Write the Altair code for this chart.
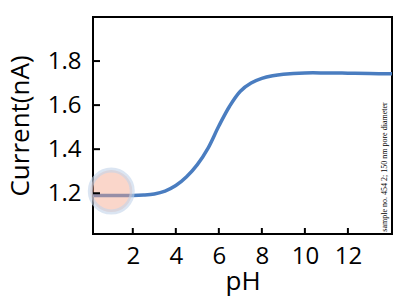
import altair as alt
import pandas as pd

# curve data
ph = [0.15, 1.0, 2.0, 2.5, 3.0, 3.5, 4.0, 4.5, 5.0, 5.5, 6.0, 6.5, 7.0, 7.5, 8.0, 8.5, 9.0, 10.0, 11.0, 12.0, 13.0, 14.05]
current = [1.19, 1.19, 1.19, 1.192, 1.197, 1.21, 1.235, 1.275, 1.33, 1.405, 1.505, 1.595, 1.663, 1.70, 1.721, 1.733, 1.740, 1.746, 1.746, 1.745, 1.743, 1.742]

# highlighted point
marker_ph = [1.0]
marker_current = [1.21]

x_ticks = [2, 4, 6, 8, 10, 12]
y_ticks = [1.2, 1.4, 1.6, 1.8]
note = "sample no. 454 2; 150 nm pore diameter"

W, H = 299, 217
X_DOMAIN = [0.15, 14.05]
Y_DOMAIN = [1.015, 2.0]
FONT = "Open Sans"

curve_df = pd.DataFrame({"pH": ph, "Current": current})
marker_df = pd.DataFrame({"pH": marker_ph, "Current": marker_current})
xt_df = pd.DataFrame({"v": x_ticks})
yt_df = pd.DataFrame({"v": y_ticks})
note_df = pd.DataFrame({"t": [note]})

xs = alt.Scale(domain=X_DOMAIN, nice=False, zero=False)
ys = alt.Scale(domain=Y_DOMAIN, nice=False, zero=False)

x_axis = alt.Axis(values=x_ticks, ticks=False, domain=False, grid=False,
                  labelFont=FONT, labelFontSize=24, labelColor="black", labelPadding=10,
                  title="pH", titleFont=FONT, titleFontSize=26, titleFontWeight="normal",
                  titleColor="black", titlePadding=0)
y_axis = alt.Axis(values=y_ticks, ticks=False, domain=False, grid=False, format=".1f",
                  labelFont=FONT, labelFontSize=24, labelColor="black", labelPadding=12,
                  title="Current(nA)", titleFont=FONT, titleFontSize=26, titleFontWeight="normal",
                  titleColor="black", titlePadding=14)

line = alt.Chart(curve_df).mark_line(color="#4a7dc0", strokeWidth=3.5, interpolate="catmull-rom").encode(
    x=alt.X("pH:Q", scale=xs, axis=x_axis),
    y=alt.Y("Current:Q", scale=ys, axis=y_axis),
)

marker = alt.Chart(marker_df).mark_point(
    shape="circle", filled=False, fill="#f4a58a", fillOpacity=0.45,
    stroke="#c3d3ea", strokeWidth=5, strokeOpacity=0.6, size=1764
).encode(x=alt.X("pH:Q", scale=xs), y=alt.Y("Current:Q", scale=ys))

xticks = alt.Chart(xt_df).mark_rule(color="black", strokeWidth=2).encode(
    x=alt.X("v:Q", scale=xs), y=alt.value(H), y2=alt.value(H - 6))
yticks = alt.Chart(yt_df).mark_rule(color="black", strokeWidth=2).encode(
    y=alt.Y("v:Q", scale=ys), x=alt.value(0), x2=alt.value(7))

note_mark = alt.Chart(note_df).mark_text(
    angle=270, align="center", baseline="middle", font="Liberation Serif",
    fontSize=8, color="black"
).encode(text="t:N", x=alt.value(W - 7), y=alt.value(150))

chart = alt.layer(line, marker, xticks, yticks, note_mark).properties(
    width=W, height=H,
    background="white",
    autosize=alt.AutoSizeParams(type="none"),
    padding={"left": 93, "top": 17, "right": 8, "bottom": 66},
).configure_view(stroke="black", strokeWidth=2)

chart.save("out.html", embed_options={"renderer": "svg", "actions": False})
